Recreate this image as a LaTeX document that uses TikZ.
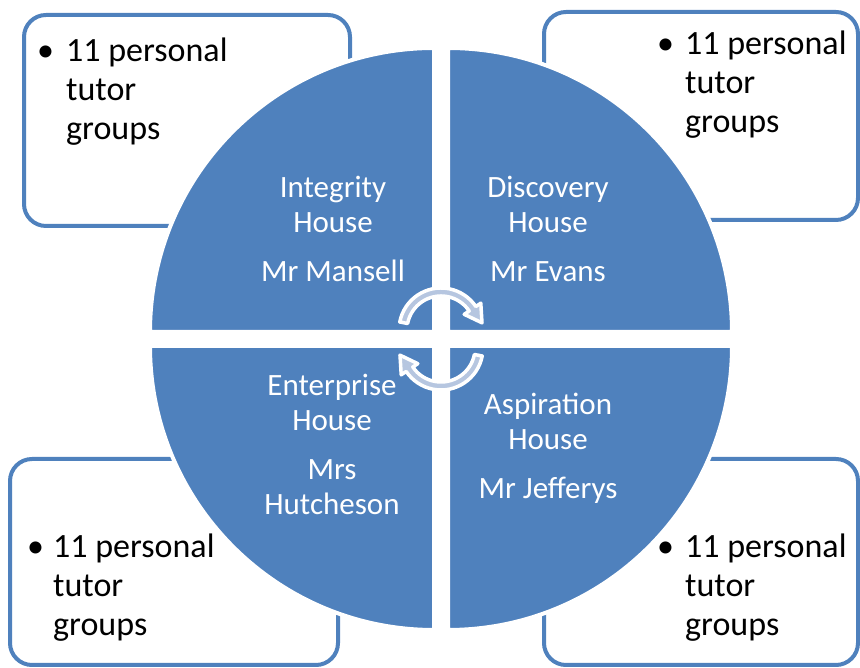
\documentclass[tikz,border=0pt]{standalone}
\usepackage{fontspec}
\setmainfont{Carlito}
\usetikzlibrary{calc}
\definecolor{houseblue}{RGB}{79,129,189}
\definecolor{arrowfill}{RGB}{182,198,224}

\begin{document}
\begin{tikzpicture}[x=1pt,y=1pt,
		groupbox/.style={draw=houseblue, line width=4pt, rounded corners=22pt, fill=white},
		quadrant/.style={fill=houseblue, draw=white, line width=4pt},
		housetext/.style={text=white, align=center, inner sep=0pt, anchor=base,
			font=\fontsize{31}{35}\selectfont},
		grouptext/.style={align=left, inner sep=0pt, anchor=base west,
			font=\fontsize{34}{39}\selectfont},
		cyclearrow/.style={fill=arrowfill, draw=white, line width=3.5pt, line join=round}]
	
	\useasboundingbox (0,0) rectangle (860,668);
	
	% group boxes behind the circle
	\draw[groupbox] (24,442) rectangle (350,653);
	\draw[groupbox] (544,448) rectangle (858,656);
	\draw[groupbox] (10,3) rectangle (338,209);
	\draw[groupbox] (544,3) rectangle (858,209);
	
	% base of a text block is its last line
	\node[grouptext] (tlBullet) at (37,606) {\textbullet};
	\node[grouptext] (tlText) at (66,528) {11 personal\\tutor\\groups};
	\node[grouptext] (trBullet) at (657,613) {\textbullet};
	\node[grouptext] (trText) at (685,535) {11 personal\\tutor\\groups};
	\node[grouptext] (blBullet) at (27,110) {\textbullet};
	\node[grouptext] (blText) at (53,32) {11 personal\\tutor\\groups};
	\node[grouptext] (brBullet) at (657,110) {\textbullet};
	\node[grouptext] (brText) at (685,32) {11 personal\\tutor\\groups};
	
	% the four houses
	\filldraw[quadrant] (434,336) -- ++(180:284) arc[start angle=180, end angle=90, radius=284] -- cycle;
	\filldraw[quadrant] (448,336) -- ++(0:284) arc[start angle=0, end angle=90, radius=284] -- cycle;
	\filldraw[quadrant] (434,322) -- ++(180:284) arc[start angle=180, end angle=270, radius=284] -- cycle;
	\filldraw[quadrant] (448,322) -- ++(0:284) arc[start angle=0, end angle=-90, radius=284] -- cycle;
	
	\node[housetext] (integrity) at (333,386) {Integrity\\House\\[14pt]Mr Mansell};
	\node[housetext] (discovery) at (548,386) {Discovery\\House\\[14pt]Mr Evans};
	\node[housetext] (enterprise) at (332,153) {Enterprise\\House\\[14pt]Mrs\\Hutcheson};
	\node[housetext] (aspiration) at (548,169) {Aspiration\\House\\[14pt]Mr Jefferys};
	
	% cycle arrows in the middle
	\coordinate (topC) at (441,338);
	\coordinate (botC) at (441,320);
	\foreach \c/\a/\b in {topC/169/34, botC/349/214}
		\filldraw[cyclearrow] ($(\c)+(\a:42)$) arc[start angle=\a, end angle=\b, radius=42]
			-- ($(\c)+(\b:48)$) -- ($(\c)+(\b:38)+(\b-90:17)$) -- ($(\c)+(\b:28)$)
			-- ($(\c)+(\b:34)$) arc[start angle=\b, end angle=\a, radius=34] -- cycle;
	
\end{tikzpicture}
\end{document}
